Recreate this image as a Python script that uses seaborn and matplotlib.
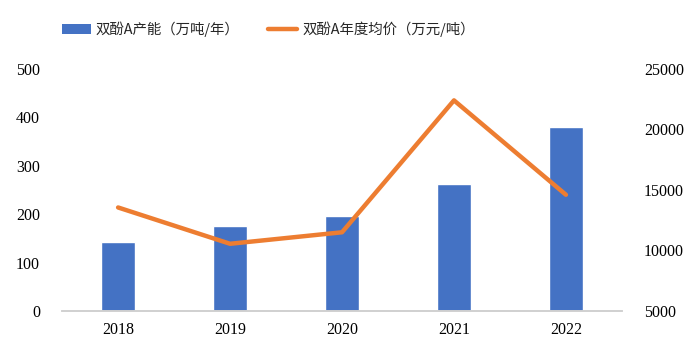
import numpy as np
import pandas as pd
import seaborn as sns
import matplotlib.pyplot as plt
from matplotlib.patches import Patch
from matplotlib.lines import Line2D

years = ['2018', '2019', '2020', '2021', '2022']
capacity = [143, 175, 197, 263, 381]          # 双酚A产能（万吨/年）
price = [13550, 10550, 11500, 22400, 14600]   # 双酚A年度均价（万元/吨）

df = pd.DataFrame({'year': years, 'capacity': capacity, 'price': price})
df['pos'] = np.arange(len(df))

sns.set_style('white')
plt.rcParams['font.family'] = ['Liberation Serif', 'Noto Sans CJK SC', 'DejaVu Sans']

blue = '#4472C4'
orange = '#ED7D31'

fig = plt.figure(figsize=(6.98, 3.57), dpi=100)
ax = fig.add_axes([0.089, 0.129, 0.802, 0.678])

sns.barplot(data=df, x='year', y='capacity', color=blue, width=0.31,
            saturation=1, ax=ax)
ax.set_ylim(0, 500)
ax.set_yticks([0, 100, 200, 300, 400, 500])
ax.set_xlim(-0.5, 4.5)
ax.set_xlabel('')
ax.set_ylabel('')

ax2 = ax.twinx()
sns.lineplot(data=df, x='pos', y='price', color=orange, linewidth=3.2,
             solid_capstyle='round', ax=ax2)
ax2.set_ylim(5000, 25000)
ax2.set_yticks([5000, 10000, 15000, 20000, 25000])
ax2.set_xlim(-0.5, 4.5)
ax2.set_ylabel('')

for a in (ax, ax2):
    for s in ['top', 'left', 'right']:
        a.spines[s].set_visible(False)
    a.spines['bottom'].set_color('#d0d0d0')
    a.spines['bottom'].set_linewidth(1.2)
    a.tick_params(axis='both', length=0, labelsize=11.5, colors='black')

ax.tick_params(axis='y', pad=16)
ax.tick_params(axis='x', pad=8)
ax2.tick_params(axis='y', pad=16)

handles = [Patch(facecolor=blue, edgecolor='none'),
           Line2D([0], [0], color=orange, linewidth=3.2, solid_capstyle='round')]
labels = ['双酚A产能（万吨/年）', '双酚A年度均价（万元/吨）']
fig.legend(handles, labels, loc='center left', bbox_to_anchor=(0.07, 0.918), ncol=2,
           frameon=False, columnspacing=2.0, handlelength=2.0,
           handletextpad=0.35, prop={'family': ['Noto Sans CJK SC', 'DejaVu Sans'], 'size': 10.4})

fig.savefig('out.png', dpi=100)
